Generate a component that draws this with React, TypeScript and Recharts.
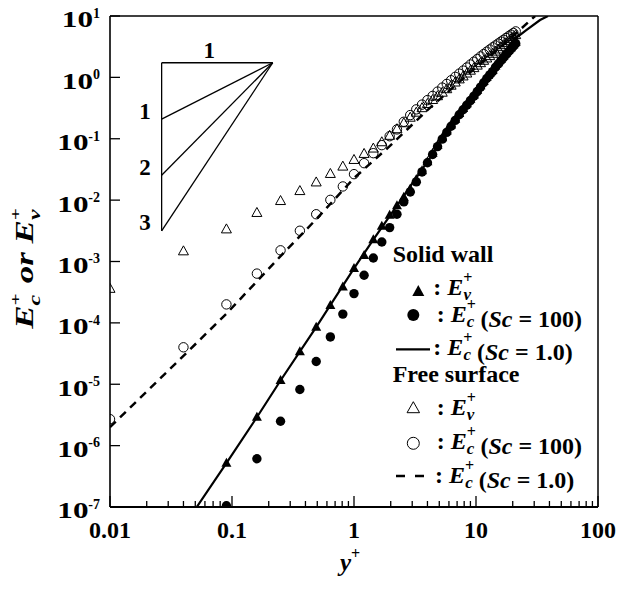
import React from 'react';
import { ComposedChart, XAxis, YAxis, Line, Scatter, ReferenceLine } from 'recharts';

// ---------- data ----------
const yPlus = [
  0.01, 0.04, 0.09, 0.16, 0.25, 0.36, 0.49, 0.64, 0.81, 1.0,
  1.21, 1.44, 1.69, 1.96, 2.25, 2.56, 2.89, 3.24, 3.61, 4.0,
  4.41, 4.84, 5.29, 5.76, 6.25, 6.76, 7.29, 7.84, 8.41, 9.0,
  9.61, 10.24, 10.89, 11.56, 12.25, 12.96, 13.69, 14.44, 15.21, 16.0,
  16.81, 17.64, 18.49, 19.36, 20.25, 21.16,
];

// Solid wall, E_v+ (filled triangles)
const wallEv = [
  null, null, 5.2e-7, 2.9e-6, 1.15e-5, 3.4e-5, 8.5e-5, 1.93e-4, 3.84e-4, 7.7e-4,
  1.26e-3, 2.28e-3, 3.75e-3, 5.67e-3, 8.1e-3, 0.0112, 0.0153, 0.0217, 0.0302, 0.0422,
  0.0582, 0.0783, 0.104, 0.134, 0.168, 0.209, 0.259, 0.313, 0.372, 0.441,
  0.52, 0.618, 0.73, 0.861, 1.01, 1.16, 1.31, 1.54, 1.74, 1.97,
  2.21, 2.47, 2.76, 3.06, 3.39, 3.74,
];

// Solid wall, E_c+ (Sc = 100) (filled circles)
const wallEc100 = [
  null, null, 1.05e-7, 6.1e-7, 2.5e-6, 8.2e-6, 2.35e-5, 5.9e-5, 1.39e-4, 3.0e-4,
  5.96e-4, 1.14e-3, 2.08e-3, 3.57e-3, 5.89e-3, 9.35e-3, 0.0136, 0.0198, 0.0288, 0.0407,
  0.0553, 0.0744, 0.0986, 0.127, 0.16, 0.199, 0.246, 0.297, 0.353, 0.419,
  0.494, 0.587, 0.694, 0.818, 0.96, 1.1, 1.24, 1.46, 1.65, 1.87,
  2.1, 2.35, 2.62, 2.91, 3.22, 3.55,
];

// Free surface, E_v+ (open triangles)
const freeEv = [
  3.6e-4, 1.47e-3, 3.35e-3, 6.2e-3, 9.7e-3, 0.0141, 0.0195, 0.0268, 0.0353, 0.0453,
  0.0568, 0.0695, 0.088, 0.112, 0.1435, 0.1795, 0.221, 0.267, 0.316, 0.37,
  0.43, 0.495, 0.565, 0.644, 0.735, 0.828, 0.931, 1.04, 1.16, 1.29,
  1.42, 1.56, 1.71, 1.87, 2.04, 2.23, 2.43, 2.64, 2.86, 3.12,
  3.36, 3.63, 3.91, 4.21, 4.54, 4.9,
];

// Free surface, E_c+ (Sc = 100) (open circles)
const freeEc100 = [
  2.7e-6, 4.0e-5, 2.0e-4, 6.35e-4, 1.52e-3, 3.17e-3, 5.89e-3, 0.0101, 0.0167, 0.0265,
  0.04, 0.0582, 0.0787, 0.11, 0.142, 0.189, 0.243, 0.301, 0.36, 0.426,
  0.499, 0.586, 0.682, 0.783, 0.897, 1.02, 1.15, 1.29, 1.45, 1.62,
  1.8, 1.99, 2.19, 2.4, 2.62, 2.84, 3.08, 3.31, 3.56, 3.82,
  4.09, 4.38, 4.67, 4.97, 5.28, 5.61,
];

// Solid wall, E_c+ (Sc = 1.0) solid line
const wallLineX = [0.0514, 0.09, 0.16, 0.25, 0.49, 1.0, 1.44, 2.25, 4.0, 6.25, 9.0, 12.25, 16.0, 20.2, 26.0, 33.5, 38.9];
const wallLineY = [1e-7, 5.2e-7, 2.9e-6, 1.15e-5, 8.5e-5, 7.7e-4, 2.28e-3, 8.1e-3, 0.0422, 0.168, 0.441, 1.01, 2.1, 4.06, 5.92, 8.6, 10];

// Free surface, E_c+ (Sc = 1.0) dashed line
const freeLineX = [0.01, 0.04, 0.09, 0.25, 0.49, 1.0, 1.96, 4.0, 9.0, 16.0, 30.5];
const freeLineY = [2.0e-6, 2.9e-5, 1.41e-4, 1.22e-3, 4.88e-3, 0.0228, 0.0757, 0.293, 1.22, 3.12, 10];

const xTicks = [
  0.01, 0.02, 0.03, 0.04, 0.05, 0.06, 0.07, 0.08, 0.09,
  0.1, 0.2, 0.3, 0.4, 0.5, 0.6, 0.7, 0.8, 0.9,
  1, 2, 3, 4, 5, 6, 7, 8, 9,
  10, 20, 30, 40, 50, 60, 70, 80, 90, 100,
];
const yTicks = [1e-7, 1e-6, 1e-5, 1e-4, 1e-3, 1e-2, 1e-1, 1, 10];

// slope guide triangle (data coordinates)
const slopeX = [0.0265, 0.2157];
const slopeTop = 1.73;
const slopeEnds = [0.209, 0.0255, 0.00315];

// ---------- helpers ----------
const FONT = "'Liberation Serif', 'Times New Roman', serif";

const toPoints = (xs: number[], ys: (number | null)[]) =>
  xs.map((x, i) => ({ x, y: ys[i] })).filter((p) => p.y != null);

const isDecade = (v: number) => {
  const l = Math.log10(v);
  return Math.abs(l - Math.round(l)) < 1e-6;
};

const XTick = (props: any) => {
  const { x, y, payload } = props;
  const v = payload.value;
  const major = isDecade(v);
  return (
    <g>
      <line x1={x} x2={x} y1={y} y2={y - (major ? 11 : 6)} stroke="#000" strokeWidth={1.3} />
      {major && (
        <text x={x} y={y + 31} textAnchor="middle" fontSize={24} fontWeight="bold" fontFamily={FONT} fill="#000">
          {String(v)}
        </text>
      )}
    </g>
  );
};

const YTick = (props: any) => {
  const { x, y, payload } = props;
  const e = Math.round(Math.log10(payload.value));
  const s = String(e);
  const supW = s.length > 1 ? 11.5 : 7;
  const right = x - 10;
  return (
    <g>
      <line x1={x} x2={x + 10} y1={y} y2={y} stroke="#000" strokeWidth={1.3} />
      <text
        transform={`translate(${right - supW}, ${y + 11.4}) scale(1.3, 1)`}
        textAnchor="end"
        fontSize={24}
        fontWeight="bold"
        fontFamily={FONT}
        fill="#000"
      >
        10
      </text>
      <text x={right} y={y + 1.8} textAnchor="end" fontSize={14} fontWeight="bold" fontFamily={FONT} fill="#000">
        {s}
      </text>
    </g>
  );
};

const triPts = (cx: number, cy: number, w: number, h: number) =>
  `${cx},${cy - h * 0.6} ${cx - w / 2},${cy + h * 0.4} ${cx + w / 2},${cy + h * 0.4}`;

const FilledTri = (p: any) => <polygon points={triPts(p.cx, p.cy, 10, 9)} fill="#000" />;
const OpenTri = (p: any) => <polygon points={triPts(p.cx, p.cy, 10, 9)} fill="none" stroke="#000" strokeWidth={1} />;
const FilledCirc = (p: any) => <circle cx={p.cx} cy={p.cy} r={4.7} fill="#000" />;
const OpenCirc = (p: any) => <circle cx={p.cx} cy={p.cy} r={4.7} fill="none" stroke="#000" strokeWidth={1} />;

const ESym = ({ sub }: { sub: string }) => (
  <>
    <tspan fontStyle="italic">E</tspan>
    <tspan fontSize={16} dy={-12}>+</tspan>
    <tspan fontSize={17} fontStyle="italic" dx={-9} dy={17}>{sub}</tspan>
    <tspan dy={-5} dx={2}></tspan>
  </>
);

const LegendText = ({ x, y, sub, sc }: { x: number; y: number; sub: string; sc?: string }) => (
  <text x={x} y={y} fontSize={24} fontWeight="bold" fontFamily={FONT} fill="#000">
    <tspan>: </tspan>
    <ESym sub={sub} />
    {sc && (
      <>
        <tspan> (</tspan>
        <tspan fontStyle="italic">Sc</tspan>
        <tspan>{` = ${sc})`}</tspan>
      </>
    )}
  </text>
);

export default function App() {
  const W = 610;
  const H = 574;
  return (
    <div style={{ position: 'relative', width: 618, height: 590, overflow: 'hidden' }}>
      <style>{'html, body { margin: 0; padding: 0; overflow: hidden; }'}</style>
      <div style={{ position: 'absolute', left: 8, top: 8, width: W, height: H }}>
        <ComposedChart
          width={W}
          height={H}
          margin={{ top: 8, right: 20, left: 0, bottom: 0 }}
          style={{ overflow: 'visible' }}
        >
          <XAxis
            dataKey="x"
            type="number"
            scale="log"
            domain={[0.01, 100]}
            ticks={xTicks}
            interval={0}
            allowDataOverflow
            height={75}
            tickSize={0}
            tickMargin={0}
            tickLine={false}
            axisLine={{ stroke: '#000', strokeWidth: 2 }}
            tick={(p: any) => <XTick {...p} />}
          />
          <YAxis
            dataKey="y"
            type="number"
            scale="log"
            domain={[1e-7, 10]}
            ticks={yTicks}
            interval={0}
            allowDataOverflow
            width={102}
            tickSize={0}
            tickMargin={0}
            tickLine={false}
            axisLine={{ stroke: '#000', strokeWidth: 1.6 }}
            tick={(p: any) => <YTick {...p} />}
          />
          <ReferenceLine y={10} stroke="#000" strokeWidth={1.5} ifOverflow="visible" />
          <ReferenceLine x={100} stroke="#000" strokeWidth={1.5} ifOverflow="visible" />

          <ReferenceLine segment={[{ x: slopeX[0], y: slopeTop }, { x: slopeX[1], y: slopeTop }]} stroke="#000" strokeWidth={1.3} ifOverflow="visible" />
          <ReferenceLine segment={[{ x: slopeX[0], y: slopeTop }, { x: slopeX[0], y: slopeEnds[2] }]} stroke="#000" strokeWidth={1.3} ifOverflow="visible" />
          {slopeEnds.map((e, i) => (
            <ReferenceLine
              key={i}
              segment={[{ x: slopeX[1], y: slopeTop }, { x: slopeX[0], y: e }]}
              stroke="#000"
              strokeWidth={1.3}
              ifOverflow="visible"
            />
          ))}

          <Line
            data={toPoints(wallLineX, wallLineY)}
            dataKey="y"
            type="linear"
            stroke="#000"
            strokeWidth={2.2}
            dot={false}
            activeDot={false}
            isAnimationActive={false}
          />
          <Line
            data={toPoints(freeLineX, freeLineY)}
            dataKey="y"
            type="linear"
            stroke="#000"
            strokeWidth={2.5}
            strokeDasharray="8 6"
            dot={false}
            activeDot={false}
            isAnimationActive={false}
          />
          <Scatter data={toPoints(yPlus, freeEv)} dataKey="y" shape={OpenTri} isAnimationActive={false} />
          <Scatter data={toPoints(yPlus, freeEc100)} dataKey="y" shape={OpenCirc} isAnimationActive={false} />
          <Scatter data={toPoints(yPlus, wallEv)} dataKey="y" shape={FilledTri} isAnimationActive={false} />
          <Scatter data={toPoints(yPlus, wallEc100)} dataKey="y" shape={FilledCirc} isAnimationActive={false} />
        </ComposedChart>

        <svg
          width={W}
          height={H}
          style={{ position: 'absolute', left: 0, top: 0, pointerEvents: 'none', overflow: 'visible' }}
          fontFamily={FONT}
        >
          {/* slope guide labels */}
          <g fontSize={23} fontWeight="bold" textAnchor="middle" fill="#000">
            <text x={201.3} y={50.3}>1</text>
            <text x={137} y={111}>1</text>
            <text x={137} y={167}>2</text>
            <text x={137} y={222}>3</text>
          </g>

          {/* axis titles */}
          <text x={332} y={563} fontSize={25} fontWeight="bold" fill="#000">
            <tspan fontStyle="italic">y</tspan>
            <tspan fontSize={16} dy={-12}>+</tspan>
          </text>
          <g transform="translate(25, 260.5) rotate(-90) scale(1.4, 1)">
            <text x={0} y={0} textAnchor="middle" fontSize={25} fontWeight="bold" fontStyle="italic" fill="#000">
              <tspan>E</tspan>
              <tspan fontSize={15} dy={-13}>+</tspan>
              <tspan fontSize={17} dx={-8.5} dy={20}>c</tspan>
              <tspan dy={-7} dx={2}> or E</tspan>
              <tspan fontSize={15} dy={-13}>+</tspan>
              <tspan fontSize={17} dx={-8.5} dy={20}>v</tspan>
            </text>
          </g>

          {/* legend */}
          <g>
            <text x={384.7} y={254} fontSize={24} fontWeight="bold" fill="#000">Solid wall</text>
            <polygon points={triPts(410.3, 283.7, 12, 11)} fill="#000" />
            <LegendText x={425.3} y={287} sub="v" />
            <circle cx={405.3} cy={307} r={6} fill="#000" />
            <LegendText x={428.7} y={313.7} sub="c" sc="100" />
            <line x1={388} x2={422} y1={341.3} y2={341.3} stroke="#000" strokeWidth={2.2} />
            <LegendText x={425.3} y={347} sub="c" sc="1.0" />

            <text x={384.7} y={373.7} fontSize={24} fontWeight="bold" fill="#000">Free surface</text>
            <polygon points={triPts(405.3, 400.3, 12.5, 11)} fill="none" stroke="#000" strokeWidth={1} />
            <LegendText x={428.7} y={407} sub="v" />
            <circle cx={405.3} cy={435.3} r={6} fill="none" stroke="#000" strokeWidth={1} />
            <LegendText x={428.7} y={441.3} sub="c" sc="100" />
            <line x1={388} x2={416} y1={468} y2={468} stroke="#000" strokeWidth={2.5} strokeDasharray="9 10" />
            <LegendText x={427} y={474.7} sub="c" sc="1.0" />
          </g>
        </svg>
      </div>
    </div>
  );
}
